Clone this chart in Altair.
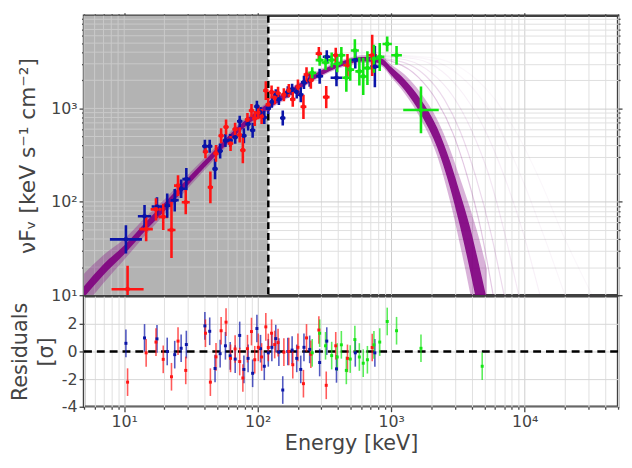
import json
import altair as alt
import pandas as pd

# ---------------- axis ticks / labels ----------------
x_major = [10, 100, 1000, 10000]
x_major_labels = ["10¹", "10²", "10³", "10⁴"]
y_major = [10, 100, 1000]
y_major_labels = ["10¹", "10²", "10³"]
res_ticks = [-4, -2, 0, 2]
x_ticks = [m * 10 ** k for k in range(0, 5) for m in range(1, 10) if 5 <= m * 10 ** k <= 50000]
y_ticks = [m * 10 ** k for k in range(1, 4) for m in range(1, 10)]

X_DOMAIN = [5, 50000]
Y_DOMAIN = [10, 9800]
R_DOMAIN = [-4, 4]
SHADE_END = 120  # keV, end of the excluded (shaded) range

# ---------------- model band ----------------
band_E = [5, 7, 10, 15, 20, 30, 50, 70, 100, 130, 170, 220, 300, 400, 500, 600, 700, 850, 1000, 1260, 1670, 2210, 2765, 3270, 3870, 4520, 5200]
core_lo = [9.5, 16.5, 27.5, 52, 79, 150, 326, 535, 815, 1070, 1350, 1730, 2260, 2740, 3030, 3170, 3150, 2940, 2280, 1570, 860, 380, 140, 55, 19, 6.5, 2.2]
core_hi = [12.5, 21.5, 34, 64, 97, 180, 384, 625, 945, 1230, 1550, 1970, 2560, 3080, 3400, 3550, 3560, 3400, 2770, 2040, 1240, 620, 270, 125, 55, 22, 9]
outer_lo = [7.5, 13.5, 24, 47, 73, 140, 310, 510, 785, 1030, 1300, 1680, 2190, 2650, 2930, 3060, 3030, 2810, 2150, 1440, 760, 310, 100, 35, 11, 3.2, 1]
outer_hi = [17, 27, 40, 72, 106, 195, 405, 655, 985, 1280, 1610, 2040, 2650, 3200, 3530, 3700, 3720, 3570, 2960, 2300, 1450, 760, 360, 180, 88, 42, 19]

# faint posterior samples fanning out to high energies
fan1_E = [400, 700, 1100, 1600, 2200, 2900, 3700, 4700, 5800]
fan1_F = [3000, 3450, 3050, 2150, 1200, 540, 190, 50, 10]
fan2_E = [400, 700, 1200, 1800, 2500, 3300, 4300, 5600, 7000]
fan2_F = [3050, 3500, 3150, 2250, 1250, 560, 185, 45, 10]
fan3_E = [400, 800, 1300, 2000, 2900, 4000, 5400, 7100, 9000]
fan3_F = [3050, 3600, 3300, 2400, 1350, 580, 190, 45, 10]
fan4_E = [400, 800, 1500, 2400, 3500, 5000, 7000, 9800, 13000]
fan4_F = [3100, 3650, 3400, 2500, 1400, 600, 190, 45, 10]
fan5_E = [400, 900, 1700, 2900, 4400, 6500, 9500, 14000, 20000]
fan5_F = [3100, 3700, 3450, 2550, 1450, 600, 180, 42, 10]
fan6_E = [400, 900, 2000, 3500, 5500, 8500, 13000, 20000, 32000]
fan6_F = [3100, 3750, 3500, 2600, 1450, 580, 170, 40, 10]
fan_opacity = [0.22, 0.15, 0.09, 0.06, 0.04, 0.03]

# ---------------- data: detector 1 (red) ----------------
red_E = [10.6, 14.6, 17.3, 19.6, 22.6, 25.3, 28.9, 40.6, 44.2, 48.7, 53.2, 57.9, 62.6, 67.7, 73.3, 77.4, 83.8, 89.8, 95.0, 101,
         107, 115, 120, 127, 134, 142, 157, 171, 183, 200, 220, 232, 250, 287, 326, 384, 470, 720]
red_F = [11.6, 51, 83, 69, 50, 149, 99, 343, 143, 330, 509, 631, 420, 599, 520, 357, 760, 950, 780, 900,
         820, 1550, 1100, 1500, 1300, 1450, 1400, 1550, 1250, 1700, 1040, 2300, 2000, 3860, 1320, 3700, 2900, 3700]
red_dex = [0.25, 0.13, 0.12, 0.14, 0.3, 0.11, 0.13, 0.07, 0.17, 0.09, 0.08, 0.08, 0.08, 0.07, 0.08, 0.14, 0.07, 0.07, 0.08, 0.07,
           0.08, 0.1, 0.07, 0.07, 0.07, 0.07, 0.07, 0.07, 0.08, 0.08, 0.13, 0.08, 0.09, 0.07, 0.12, 0.08, 0.12, 0.22]
red_xdex = [0.12, 0.05, 0.04, 0.035, 0.03, 0.03, 0.03, 0.02, 0.02, 0.02, 0.02, 0.02, 0.02, 0.02, 0.02, 0.02, 0.02, 0.02, 0.02, 0.02,
            0.02, 0.02, 0.02, 0.02, 0.02, 0.02, 0.02, 0.02, 0.02, 0.02, 0.022, 0.022, 0.022, 0.024, 0.025, 0.03, 0.03, 0.035]
red_res = [-2.22, -0.1, 0.68, -0.57, -1.83, 0.75, -1.37, 1.32, -2.22, -0.39, 1.5, 2.12, -0.5, 0.18, -0.73, -1.92, 0.2, 1.44, -0.6, 0.3,
           -0.4, 1.78, 0.29, 1.32, 0.5, 0.64, -0.05, 0.0, -0.96, 0.3, -2.33, 0.98, -0.2, 1.55, -2.45, 0.41, -0.5, 0.29]

# ---------------- data: detector 2 (blue) ----------------
blue_E = [10.3, 14.2, 17.6, 21.0, 23.9, 26.7, 29.2, 40.2, 43.7, 47.9, 52.3, 57.3, 62.2, 67.8, 73.3, 78.8, 84.7, 91.6, 98.6, 105,
          112, 120, 127.6, 136.5, 144, 154, 168, 181, 196, 210, 222, 245, 291, 329, 389, 538, 754]
blue_F = [39.6, 70, 89, 91, 104, 138, 175, 393, 393, 225, 350, 453, 453, 490, 728, 509, 680, 583, 1050, 900,
          800, 1000, 1170, 1400, 1250, 790, 1500, 1600, 1500, 1400, 1900, 2000, 2210, 3570, 2130, 3300, 2800]
blue_dex = [0.15, 0.12, 0.1, 0.13, 0.12, 0.1, 0.12, 0.07, 0.07, 0.11, 0.08, 0.07, 0.07, 0.07, 0.06, 0.08, 0.07, 0.08, 0.06, 0.06,
            0.07, 0.06, 0.06, 0.06, 0.06, 0.08, 0.06, 0.06, 0.07, 0.08, 0.07, 0.07, 0.08, 0.07, 0.09, 0.09, 0.22]
blue_xdex = [0.12, 0.05, 0.04, 0.035, 0.03, 0.03, 0.03, 0.02, 0.02, 0.02, 0.02, 0.02, 0.02, 0.02, 0.02, 0.02, 0.02, 0.02, 0.02, 0.02,
             0.02, 0.02, 0.02, 0.02, 0.02, 0.02, 0.02, 0.02, 0.022, 0.022, 0.022, 0.024, 0.026, 0.03, 0.044, 0.03, 0.035]
blue_res = [0.59, 0.98, 0.91, 0.0, -0.23, 0.23, 0.5, 1.85, 1.46, -1.23, -0.16, 0.41, -0.32, -0.55, 1.16, -1.3, -0.5, -1.58, 1.66, 0.2,
            -1.07, -0.1, 0.3, 0.93, -0.05, -2.79, 0.0, 0.1, -0.5, -1.3, 0.3, 0.15, -0.8, 0.75, -1.26, -0.1, -0.1]

# ---------------- data: detector 3 (green, BGO) ----------------
green_E = [256, 291, 322, 358, 394, 423, 461, 493, 534, 577, 617, 663, 742, 820, 933, 1096, 1670, 4800]
green_F = [2400, 3290, 3100, 3300, 3000, 3700, 2130, 2600, 4170, 2490, 2200, 2700, 3400, 3560, 4900, 3700, 962, 3]
green_dex = [0.06, 0.06, 0.08, 0.08, 0.09, 0.09, 0.15, 0.12, 0.12, 0.15, 0.2, 0.18, 0.15, 0.15, 0.08, 0.1, 0.25, 0.3]
green_xdex = [0.03, 0.03, 0.03, 0.03, 0.03, 0.03, 0.03, 0.03, 0.03, 0.03, 0.03, 0.03, 0.03, 0.035, 0.035, 0.04, 0.133, 0.2]
green_res = [-0.1, 1.32, 0.41, -0.3, -0.4, 0.48, -1.37, -0.55, 0.86, -0.4, -0.85, -0.6, 0.48, 0.68, 2.17, 1.5, 0.23, -1.07]

det_names = ["n1", "n2", "b0"]
det_colors = ["#ff1414", "#0a14a8", "#14e614"]

# ---------------- tables ----------------
rows = []
for name, E, F, dex, xdex, res in [
    ("n2", blue_E, blue_F, blue_dex, blue_xdex, blue_res),
    ("n1", red_E, red_F, red_dex, red_xdex, red_res),
    ("b0", green_E, green_F, green_dex, green_xdex, green_res),
]:
    for e, f, d, xd, r in zip(E, F, dex, xdex, res):
        rows.append({"det": name, "E": e, "F": f,
                     "Flo": f / 10 ** d, "Fhi": f * 10 ** d,
                     "Elo": e / 10 ** xd, "Ehi": e * 10 ** xd,
                     "r": r, "rlo": r - 1, "rhi": r + 1})
pts = pd.DataFrame(rows)

band = pd.DataFrame({"E": band_E, "clo": core_lo, "chi": core_hi, "olo": outer_lo, "ohi": outer_hi})

fan_rows = []
for i, (E, F) in enumerate([(fan1_E, fan1_F), (fan2_E, fan2_F), (fan3_E, fan3_F),
                            (fan4_E, fan4_F), (fan5_E, fan5_F), (fan6_E, fan6_F)]):
    for e, f in zip(E, F):
        fan_rows.append({"curve": i, "E": e, "F": f, "op": fan_opacity[i]})
fans = pd.DataFrame(fan_rows)

shade = pd.DataFrame({"x0": [X_DOMAIN[0]], "x1": [SHADE_END]})
hgrid = pd.DataFrame({"y": y_ticks, "x0": X_DOMAIN[0], "x1": SHADE_END})
vgrid = pd.DataFrame({"x": [v for v in x_ticks if v < SHADE_END]})
vline = pd.DataFrame({"x": [SHADE_END]})
zero = pd.DataFrame({"y": [0]})

# ---------------- helpers ----------------
def major_test(vals):
    return "indexof(" + json.dumps(vals) + ", datum.value) >= 0"


def label_expr(vals, labels):
    expr = "''"
    for v, l in reversed(list(zip(vals, labels))):
        expr = f"datum.value == {v} ? '{l}' : ({expr})"
    return expr


xscale = alt.Scale(type="log", domain=X_DOMAIN, nice=False)
yscale = alt.Scale(type="log", domain=Y_DOMAIN, nice=False)
rscale = alt.Scale(domain=R_DOMAIN, nice=False)
color = alt.Color("det:N", scale=alt.Scale(domain=det_names, range=det_colors), legend=None)

x_tick_size = {"condition": {"test": major_test(x_major), "value": 5}, "value": 2.5}
x_top_tick = {"condition": {"test": major_test(x_major), "value": 3}, "value": 2}
y_tick_size = {"condition": {"test": major_test(y_major), "value": 5}, "value": 2.5}
y_right_tick = {"condition": {"test": major_test(y_major), "value": 4}, "value": 2}
x_grid_color = {"condition": {"test": major_test(x_major), "value": "#cdcdcd"}, "value": "#e0e0e0"}
y_grid_color = {"condition": {"test": major_test(y_major), "value": "#cdcdcd"}, "value": "#e0e0e0"}

W = 541
H_TOP = 283
H_RES = 112
PURPLE = "#800080"

# ---------------- top panel ----------------
rect = alt.Chart(shade).mark_rect(color="#b3b3b3").encode(
    x=alt.X("x0:Q", scale=xscale, axis=None), x2="x1:Q")
hg = alt.Chart(hgrid).mark_rule(color="#c9c9c9", strokeWidth=1).encode(
    x=alt.X("x0:Q", scale=xscale, axis=None), x2="x1:Q",
    y=alt.Y("y:Q", scale=yscale, axis=None))
vg = alt.Chart(vgrid).mark_rule(color="#c9c9c9", strokeWidth=1).encode(
    x=alt.X("x:Q", scale=xscale, axis=None))
vl = alt.Chart(vline).mark_rule(color="black", strokeWidth=2.5, strokeDash=[7, 4]).encode(
    x=alt.X("x:Q", scale=xscale, axis=None))
outer = alt.Chart(band).mark_area(color=PURPLE, opacity=0.3, clip=True, interpolate="monotone").encode(
    x=alt.X("E:Q", scale=xscale, axis=None),
    y=alt.Y("olo:Q", scale=yscale, axis=None), y2="ohi:Q")
core = alt.Chart(band).mark_area(color=PURPLE, opacity=0.9, clip=True, interpolate="monotone").encode(
    x=alt.X("E:Q", scale=xscale, axis=None),
    y=alt.Y("clo:Q", scale=yscale, axis=None), y2="chi:Q")
fan = alt.Chart(fans).mark_line(color=PURPLE, strokeWidth=1.2, clip=True, interpolate="monotone").encode(
    x=alt.X("E:Q", scale=xscale, axis=None),
    y=alt.Y("F:Q", scale=yscale, axis=None),
    detail="curve:N",
    opacity=alt.Opacity("op:Q", scale=None))
xerr = alt.Chart(pts).mark_rule(strokeWidth=2.6, clip=True).encode(
    x=alt.X("Elo:Q", scale=xscale, axis=None), x2="Ehi:Q",
    y=alt.Y("F:Q", scale=yscale, axis=None), color=color)
yerr = alt.Chart(pts).mark_rule(strokeWidth=2.6, clip=True).encode(
    x=alt.X("E:Q", scale=xscale,
            axis=alt.Axis(orient="top", values=x_ticks, labels=False, grid=False, domain=False,
                          tickSize=x_top_tick, title=None, minExtent=0, maxExtent=3)),
    y=alt.Y("Flo:Q", scale=yscale,
            axis=alt.Axis(orient="right", values=y_ticks, labels=False, grid=False, domain=False,
                          tickSize=y_right_tick, title=None, minExtent=0, maxExtent=4)),
    y2="Fhi:Q", color=color)
dots = alt.Chart(pts).mark_circle(size=22, opacity=1, clip=True).encode(
    x=alt.X("E:Q", scale=xscale,
            axis=alt.Axis(orient="bottom", values=x_ticks, labels=False, ticks=False, domain=False,
                          grid=True, gridColor=x_grid_color, title=None, minExtent=0, maxExtent=0)),
    y=alt.Y("F:Q", scale=yscale,
            axis=alt.Axis(orient="left", values=y_ticks, labelExpr=label_expr(y_major, y_major_labels),
                          tickSize=y_tick_size, grid=True, gridColor=y_grid_color, domain=False,
                          labelPadding=2, title="νFᵥ   [keV   s⁻¹   cm⁻²]", titleX=-45,
                          titleFontSize=22)),
    color=color)

top = alt.layer(rect, hg, vg, vl, outer, core, fan, xerr, yerr, dots).properties(width=W, height=H_TOP)

# ---------------- residual panel ----------------
res_x_axis = alt.Axis(orient="bottom", values=x_ticks, labelExpr=label_expr(x_major, x_major_labels),
                      tickSize=x_tick_size, grid=True, gridColor=x_grid_color, domain=False,
                      labelPadding=2, labelOverlap=False, title="Energy [keV]", titlePadding=3)
res_y_axis = alt.Axis(orient="left", values=res_ticks, labelExpr="'' + datum.value",
                      tickSize=5, grid=True, gridColor="#d6d6d6", domain=False, labelPadding=2,
                      title=["Residuals", "[σ]"], titleX=-54, titleLineHeight=26)

rdots = alt.Chart(pts).mark_square(size=9, opacity=1).encode(
    x=alt.X("E:Q", scale=xscale, axis=res_x_axis),
    y=alt.Y("r:Q", scale=rscale, axis=res_y_axis),
    color=color)
zl = alt.Chart(zero).mark_rule(color="black", strokeWidth=2.5, strokeDash=[8, 5]).encode(
    y=alt.Y("y:Q", scale=rscale, axis=res_y_axis))
rerr = alt.Chart(pts).mark_rule(strokeWidth=1.6, opacity=0.7).encode(
    x=alt.X("E:Q", scale=xscale, axis=res_x_axis),
    y=alt.Y("rlo:Q", scale=rscale, axis=res_y_axis), y2="rhi:Q", color=color)

bottom = alt.layer(zl, rerr, rdots).properties(width=W, height=H_RES)

chart = alt.vconcat(top, bottom, spacing=1, bounds="flush").properties(
    padding={"left": 0, "top": 0, "right": 0, "bottom": 0}
).configure(
    font="DejaVu Sans"
).configure_view(
    stroke="#404040", strokeWidth=2.5
).configure_axis(
    labelFontSize=16, labelColor="#444444", labelFont="DejaVu Sans",
    titleFontSize=21, titleColor="#444444", titleFont="DejaVu Sans", titleFontWeight="normal",
    tickColor="#444444", tickWidth=1.3, gridWidth=1
)

chart.save("out.html", embed_options={"renderer": "svg", "actions": False})
